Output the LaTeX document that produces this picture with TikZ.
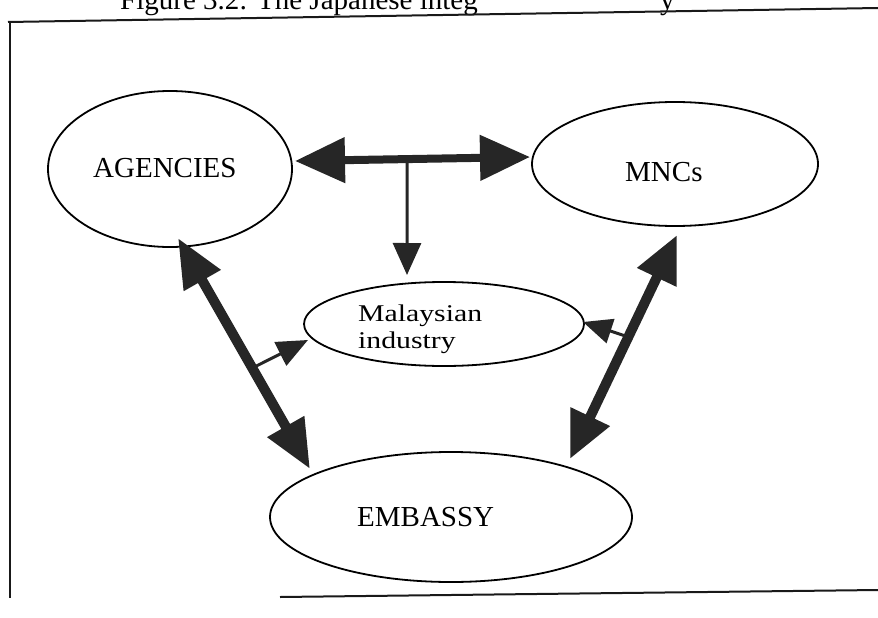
\documentclass[tikz,border=0pt]{standalone}
\usepackage{fontspec}
\usepackage{graphicx}
\setmainfont{Liberation Serif}
\usetikzlibrary{arrows.meta,shapes.geometric}
\begin{document}
\begin{tikzpicture}[x=1pt,y=1pt,
  oval/.style={ellipse, draw, line width=1.8pt, inner sep=0pt, outer sep=0pt},
  lbl/.style={inner sep=0pt, anchor=base west, font=\fontsize{29}{34}\selectfont},
  small/.style={inner sep=0pt, anchor=base west, font=\fontsize{24}{28}\selectfont},
  ink/.style={black!85},
  frame/.style={line width=2pt, black!90},
  big/.style={ink, line width=#1},
  thin/.style={ink, line width=3pt},
]
\useasboundingbox (0,0) rectangle (878,-618);

% caption line, cut off at the top edge
\begin{scope}
  \clip (0,0) rectangle (878,-618);
  \node[lbl] (cap) at (120,-9.5) {Figure 3.2: The Japanese integ};
  \node[lbl] (capy) at (660,-9.5) {y};
\end{scope}

% frame
\draw[frame] (8,-22) -- (878,-8);
\draw[frame] (10,-22) -- (10,-598);
\draw[frame] (280,-597) -- (878,-590);

% ovals
\node[oval, minimum width=244pt, minimum height=156pt] (agencies) at (170,-169) {};
\node[oval, minimum width=286pt, minimum height=124pt] (mncs) at (675,-164) {};
\node[oval, minimum width=280pt, minimum height=84pt] (malay) at (444,-324) {};
\node[oval, minimum width=362pt, minimum height=130pt] (embassy) at (451,-517) {};

% labels
\node[lbl] (agencies-t) at (93,-177) {AGENCIES};
\node[lbl] (mncs-t) at (625,-181) {MNCs};
\node[lbl] (embassy-t) at (357,-526) {EMBASSY};
\node[small] (malay-t1) at (358,-321) {\scalebox{1.24}[1]{Malaysian}};
\node[small] (malay-t2) at (358,-348) {\scalebox{1.24}[1]{industry}};

% branch points on the long arrows
\path ([shift={(3,8)}]agencies.east) -- coordinate[pos=0.477] (br) ([shift={(-2,7)}]mncs.west);
\path ([shift={(8,-69)}]agencies.center) -- coordinate[pos=0.563] (lb) ([shift={(-141,48)}]embassy.center);
\path ([shift={(2,-71)}]mncs.center) -- coordinate[pos=0.455] (rb) ([shift={(119,58)}]embassy.center);

% thin arrows to Malaysian industry
\draw[thin, -{Triangle[length=32pt,width=28pt]}] (br) -- ([shift={(-37,49)}]malay.center);
\draw[thin, -{Triangle[length=31pt,width=26pt]}] (lb) -- ([shift={(-136,-16)}]malay.center);
\draw[thin, -{Triangle[length=29pt,width=25pt]}] (rb) -- ([shift={(139,2)}]malay.center);

% heavy two-way arrows
\draw[big=8pt, {Triangle[length=50pt,width=44pt]}-{Triangle[length=50pt,width=44pt]}]
  ([shift={(3,8)}]agencies.east) -- ([shift={(-2,7)}]mncs.west);
\draw[big=10pt, {Triangle[length=49pt,width=40pt]}-{Triangle[length=49pt,width=40pt]}]
  ([shift={(8,-69)}]agencies.center) -- ([shift={(-141,48)}]embassy.center);
\draw[big=10pt, {Triangle[length=47pt,width=41pt]}-{Triangle[length=47pt,width=41pt]}]
  ([shift={(2,-71)}]mncs.center) -- ([shift={(119,58)}]embassy.center);
\end{tikzpicture}
\end{document}
